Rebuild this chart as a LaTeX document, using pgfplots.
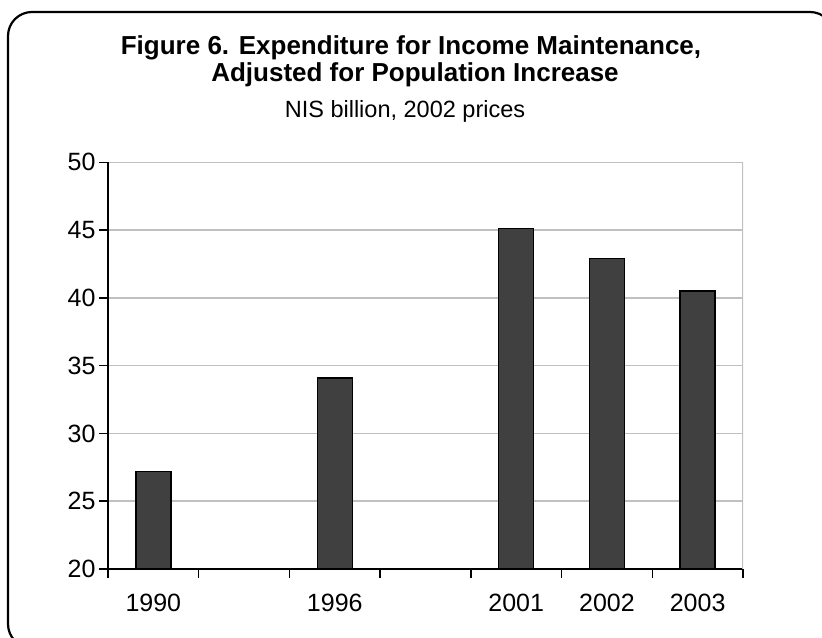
\documentclass[border=0pt]{standalone}
\usepackage{pgfplots}
\pgfplotsset{compat=1.18}
\usetikzlibrary{calc}
\usepackage{fontspec}
\setmainfont{Liberation Sans}
\definecolor{gridgray}{HTML}{C0C0C0}
\definecolor{bargray}{HTML}{404040}
\begin{document}
\begin{tikzpicture}[x=1bp,y=1bp]
\begin{axis}[
  scale only axis, width=635bp, height=406.7bp,
  xmin=-0.5, xmax=6.5, ymin=20, ymax=50,
  axis lines*=left,
  axis line style={line width=1.5bp, black},
  ytick={20,25,...,50},
  ymajorgrids, grid style={gridgray, line width=1.5bp},
  xtick={-0.5,0.5,...,6.5}, xticklabels={},
  extra x ticks={0,2,4,5,6},
  extra x tick labels={1990,1996,2001,2002,2003},
  extra x tick style={major tick length=0pt, grid=none, xticklabel style={yshift=-22bp}},
  tick align=outside, major tick length=9bp,
  tick style={black, line width=1.5bp},
  /pgf/number format/assume math mode=true,
  ticklabel style={font=\fontsize{25bp}{25bp}\selectfont},
  ybar, bar width=35bp,
]
\addplot[fill=bargray, draw=black, line width=1.5bp] coordinates {(0,27.2) (2,34.1) (4,45.1) (5,42.9) (6,40.5)};
\draw[gridgray, line width=1.5bp] (rel axis cs:1,0) -- (rel axis cs:1,1);
\coordinate (SW) at (rel axis cs:0,0);
\end{axis}
\coordinate (O) at ($(SW)+(-108,-69)$);
\useasboundingbox (O) rectangle ($(O)+(822,638)$);
\begin{scope}[shift={(O)}]
\begin{scope}
\clip (0,0) rectangle (822,638);
\draw[overlay, line width=2.2bp, rounded corners=24bp] (8,-10) rectangle (834,626);
\end{scope}
\node[anchor=base, font=\fontsize{26bp}{28bp}\selectfont\bfseries] at (411,583) {Figure 6. Expenditure for Income Maintenance,};
\node[anchor=base, font=\fontsize{26bp}{28bp}\selectfont\bfseries] at (415,556) {Adjusted for Population Increase};
\node[anchor=base, font=\fontsize{23.5bp}{28bp}\selectfont] at (405,520) {NIS billion, 2002 prices};
\end{scope}
\end{tikzpicture}
\end{document}
